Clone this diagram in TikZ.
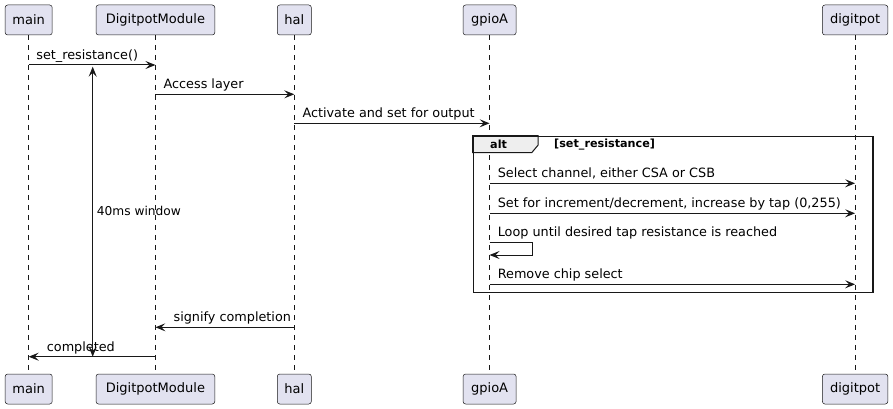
\documentclass[tikz,border=0pt]{standalone}
\usepackage{fontspec}
\setmainfont{DejaVu Sans}
\usetikzlibrary{arrows.meta,calc}
\definecolor{ln}{HTML}{181818}
\definecolor{pfill}{HTML}{E2E2F0}
\definecolor{tabfill}{HTML}{EEEEEE}
\tikzset{
  part/.style={draw=ln, line width=0.5pt, fill=pfill, rounded corners=2.5pt, minimum height=30pt, inner sep=0pt, font=\fontsize{13}{15}\selectfont, text=black},
  life/.style={draw=ln, line width=0.5pt, dash pattern=on 5pt off 5pt},
  tip/.tip={Stealth[length=10pt,width=8pt,inset=4pt]},
  msg/.style={draw=ln, line width=1pt, -tip},
  lbl/.style={font=\fontsize{12.8}{15}\selectfont, inner sep=0pt, anchor=base west, text=black},
  frm/.style={draw=ln, line width=1.5pt, inner sep=0pt},
}
\begin{document}
\begin{tikzpicture}[x=1pt,y=-1pt]
\useasboundingbox[fill=white] (0,0) rectangle (893,409);
% participants top
\node[part, minimum width=47pt]    (mainT) at (28.7,20) {main};
\node[part, minimum width=118.7pt] (dmT)   at (155.4,20) {DigitpotModule};
\node[part, minimum width=34pt]    (halT)  at (294.3,20) {hal};
\node[part, minimum width=53pt]    (gT)    at (489.6,20) {gpioA};
\node[part, minimum width=65.4pt]  (dT)    at (855.1,20) {digitpot};
% participants bottom
\node[part, minimum width=47pt]    (mainB) at (28.7,389) {main};
\node[part, minimum width=118.7pt] (dmB)   at (155.4,389) {DigitpotModule};
\node[part, minimum width=34pt]    (halB)  at (294.3,389) {hal};
\node[part, minimum width=53pt]    (gB)    at (489.6,389) {gpioA};
\node[part, minimum width=65.4pt]  (dB)    at (855.1,389) {digitpot};
% lifelines
\draw[life] (mainT.south) -- (mainB.north);
\draw[life] (dmT.south) -- (dmB.north);
\draw[life] (halT.south) -- (halB.north);
\draw[life] (gT.south) -- (gB.north);
\draw[life] (dT.south) -- (dB.north);
% alt frame
\node[frm, minimum width=399.3pt, minimum height=156pt, anchor=north west] (altf) at (472.7,135.7) {};
\draw[draw=ln, line width=1pt, fill=tabfill] (altf.north west) -- ++(65.3,0) -- ++(0,9.5) -- ++(-6.3,7.5) -- ++(-59,0) -- cycle;
\node[frm, minimum width=399.3pt, minimum height=156pt, anchor=north west] at (472.7,135.7) {};
\node[lbl, font=\fontsize{11.2}{13}\selectfont\bfseries] (altl) at (490,148.5) {alt};
\node[lbl, font=\fontsize{11.2}{13}\selectfont\bfseries] (altc) at (554,147.5) {[set\_resistance]};
% y levels
\coordinate (r1) at (0,65);
\coordinate (r2) at (0,94.3);
\coordinate (r3) at (0,123.3);
\coordinate (r4) at (0,183.3);
\coordinate (r5) at (0,213.3);
\coordinate (r6) at (0,242.3);
\coordinate (r6b) at (0,255);
\coordinate (r7) at (0,284.3);
\coordinate (r8) at (0,327.3);
\coordinate (r9) at (0,356.7);
% messages
\draw[msg] (mainT |- r1) -- (dmT |- r1);
\node[lbl] (l1) at ($(mainT |- r1)+(7.5,-5.5)$) {set\_resistance()};
\draw[msg] (dmT |- r2) -- (halT |- r2);
\node[lbl] (l2) at ($(dmT |- r2)+(8,-5.5)$) {Access layer};
\draw[msg] (halT |- r3) -- (gT |- r3);
\node[lbl] (l3) at ($(halT |- r3)+(8,-5.5)$) {Activate and set for output};
\draw[msg] (gT |- r4) -- (dT |- r4);
\node[lbl] (l4) at ($(gT |- r4)+(8,-5.5)$) {Select channel, either CSA or CSB};
\draw[msg] (gT |- r5) -- (dT |- r5);
\node[lbl] (l5) at ($(gT |- r5)+(8,-5.5)$) {Set for increment/decrement, increase by tap (0,255)};
\draw[msg] (gT |- r6) -- ++(42.4,0) -- ++(0,12.7) -- (gT |- r6b);
\node[lbl] (l6) at ($(gT |- r6)+(8,-5.5)$) {Loop until desired tap resistance is reached};
\draw[msg] (gT |- r7) -- (dT |- r7);
\node[lbl] (l7) at ($(gT |- r7)+(8,-5.5)$) {Remove chip select};
\draw[msg] (halT |- r8) -- (dmT |- r8);
\node[lbl] (l8) at ($(dmT |- r8)+(18,-5.5)$) {signify completion};
\draw[msg] (dmT |- r9) -- (mainT |- r9);
\node[lbl] (l9) at ($(mainT |- r9)+(18,-5.5)$) {completed};
% duration
\coordinate (w1) at (92.7,66.7);
\coordinate (w2) at (92.7,356.7);
\draw[draw=ln, line width=1pt, tip-tip] (w1) -- (w2);
\node[lbl, font=\fontsize{12.2}{14}\selectfont] (wl) at (96.7,215.5) {40ms window};
\end{tikzpicture}
\end{document}
